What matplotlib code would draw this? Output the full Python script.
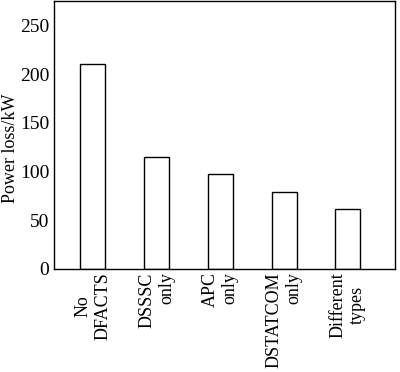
import matplotlib
matplotlib.use('Agg')
import matplotlib.pyplot as plt

categories = ['No\nDFACTS', 'DSSSC\nonly', 'APC\nonly', 'DSTATCOM\nonly', 'Different\ntypes']
power_loss = [210, 115, 98, 79, 62]
yticks = [0, 50, 100, 150, 200, 250]
label_align = ['center', 'right', 'right', 'right', 'center']

plt.rcParams['font.family'] = ['Liberation Serif', 'DejaVu Serif']
plt.rcParams['font.size'] = 13

fig = plt.figure(figsize=(4, 3.72), dpi=100)
ax = fig.add_axes([0.135, 0.277, 0.8525, 0.72])

x = range(len(categories))
ax.bar(x, power_loss, width=0.39, color='white', edgecolor='black', linewidth=1.0)

ax.set_xlim(-0.61, 4.74)
ax.set_ylim(0, 275)
ax.set_yticks(yticks)
ax.set_yticklabels([str(v) for v in yticks], fontsize=14)
ax.set_xticks(list(x))
ax.set_xticklabels(categories, rotation=90, va='top', ha='center', fontsize=13)
for lab, al in zip(ax.get_xticklabels(), label_align):
    lab.set_multialignment(al)
ax.tick_params(axis='both', length=0)
ax.tick_params(axis='y', pad=3.5)
ax.tick_params(axis='x', pad=2.5)
ax.set_ylabel('Power loss/kW', fontsize=13)
ax.yaxis.set_label_coords(-0.103, 0.45)
for s in ax.spines.values():
    s.set_linewidth(1.0)

fig.savefig('out.png', dpi=100)
